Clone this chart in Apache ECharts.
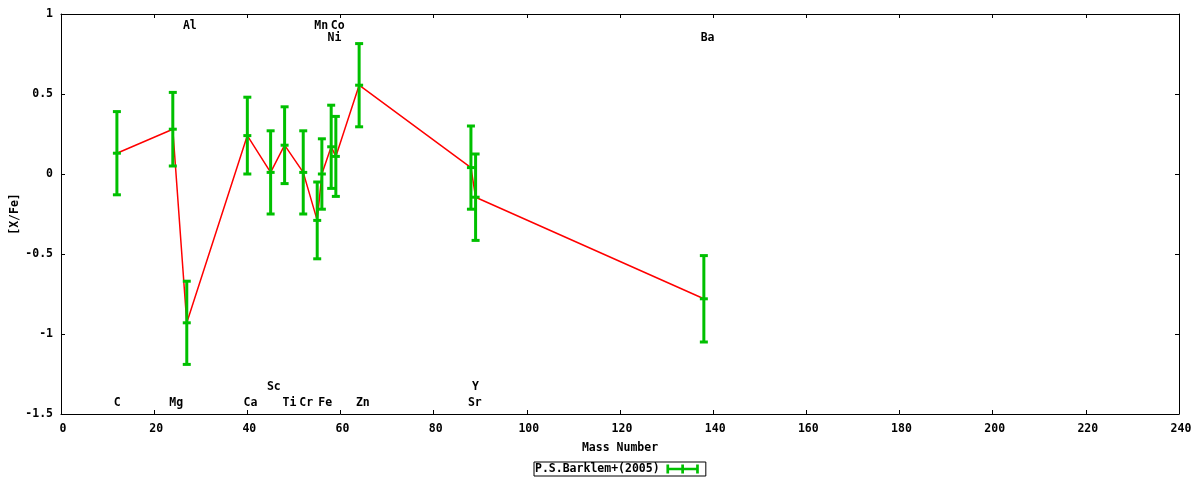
<!DOCTYPE html>
<html>
<head>
<meta charset="utf-8">
<script src="https://cdn.jsdelivr.net/npm/echarts@6/dist/echarts.min.js"></script>
<style>
html,body{margin:0;padding:0;background:#fff;}
#chart{width:1200px;height:480px;}
</style>
</head>
<body>
<div id="chart"></div>
<script>
// ---- data ----
const elements    = ['C','Mg','Al','Ca','Sc','Ti','Cr','Mn','Fe','Ni','Co','Zn','Sr','Y','Ba'];
const massNumbers = [12, 24, 27, 40, 45, 48, 52, 55, 56, 58, 59, 64, 88, 89, 138];
const xfeValues   = [0.13, 0.28, -0.93, 0.24, 0.01, 0.18, 0.01, -0.29, 0.00, 0.17, 0.11, 0.555, 0.04, -0.145, -0.78];
const xfeErrors   = [0.26, 0.23, 0.26, 0.24, 0.26, 0.24, 0.26, 0.24, 0.22, 0.26, 0.25, 0.26, 0.26, 0.27, 0.27];

// element annotation labels (data coordinates)
const labelNames = ['C','Mg','Al','Ca','Sc','Ti','Cr','Mn','Fe','Ni','Co','Zn','Sr','Y','Ba'];
const labelMass  = [12.07, 24.73, 27.65, 40.68, 45.69, 49.06, 52.64, 55.86, 56.72, 58.72, 59.4, 64.79, 88.84, 88.99, 138.8];
const labelLevel = [-1.43, -1.43, 0.925, -1.43, -1.33, -1.43, -1.43, 0.925, -1.43, 0.85, 0.925, -1.43, -1.43, -1.33, 0.85];

const xTicks = {min: 0, max: 240, interval: 20};
const yTicks = {min: -1.5, max: 1, interval: 0.5};
const seriesName = 'P.S.Barklem+(2005)';

// ---- build ----
const FONT = 'DejaVu Sans Mono';
const GREEN = '#00c000';
const RED = '#ff0000';
const txt = {fontFamily: FONT, fontWeight: 'bold', fontSize: 11.5, color: '#000'};

const pointData = massNumbers.map((m, i) => [m, xfeValues[i], xfeErrors[i]]);
const lineData = massNumbers.map((m, i) => [m, xfeValues[i]]);
const labelData = labelNames.map((n, i) => ({name: n, value: [labelMass[i], labelLevel[i]]}));

const axisCommon = {
  axisLine: {show: true, onZero: false, lineStyle: {color: '#000', width: 1}},
  axisTick: {show: true, inside: true, length: 4, lineStyle: {color: '#000'}},
  splitLine: {show: false}
};

const option = {
  animation: false,
  backgroundColor: '#fff',
  grid: {left: 61, right: 21, top: 14, bottom: 66, containLabel: false, outerBoundsMode: 'none'},
  xAxis: [
    Object.assign({
      type: 'value', position: 'bottom', min: xTicks.min, max: xTicks.max, interval: xTicks.interval,
      axisLabel: Object.assign({margin: 9, padding: [0, 0, 0, 4]}, txt),
      name: 'Mass Number', nameLocation: 'middle', nameGap: 28, nameMoveOverlap: false, nameTextStyle: txt
    }, axisCommon),
    Object.assign({
      type: 'value', position: 'top', min: xTicks.min, max: xTicks.max, interval: xTicks.interval,
      axisLabel: {show: false}
    }, axisCommon)
  ],
  yAxis: [
    Object.assign({
      type: 'value', position: 'left', min: yTicks.min, max: yTicks.max, interval: yTicks.interval,
      axisLabel: Object.assign({margin: 8}, txt),
      name: '[X/Fe]', nameLocation: 'middle', nameRotate: 90, nameGap: 40, nameMoveOverlap: false, nameTextStyle: txt
    }, axisCommon),
    Object.assign({
      type: 'value', position: 'right', min: yTicks.min, max: yTicks.max, interval: yTicks.interval,
      axisLabel: {show: false}
    }, axisCommon)
  ],
  legend: {
    data: [{name: seriesName, icon: 'path://M0,0H3V3.5H16.5V0H19.5V3.5H33V0H36V10H33V6.5H19.5V10H16.5V6.5H3V10H0Z'}],
    left: 534, top: 462, align: 'right', itemWidth: 36, itemHeight: 9, itemGap: 6,
    borderColor: '#000', borderWidth: 1, borderRadius: 0, padding: [1, 7, 1, 1],
    textStyle: txt, selectedMode: false
  },
  series: [
    {
      type: 'line', name: 'line', data: lineData, symbol: 'none', z: 2,
      lineStyle: {color: RED, width: 1.5}, silent: true
    },
    {
      type: 'custom', name: seriesName, data: pointData, z: 3, silent: true,
      itemStyle: {color: GREEN},
      encode: {x: 0, y: 1},
      renderItem: function (params, api) {
        const x = api.value(0), v = api.value(1), e = api.value(2);
        const c = api.coord([x, v]);
        const hi = api.coord([x, v + e]);
        const lo = api.coord([x, v - e]);
        const style = {fill: GREEN};
        const hw = 4, t = 3;
        return {
          type: 'group',
          children: [
            {type: 'rect', shape: {x: c[0] - 1.5, y: hi[1], width: 3, height: lo[1] - hi[1]}, style: style},
            {type: 'rect', shape: {x: c[0] - hw, y: hi[1] - t / 2, width: 2 * hw, height: t}, style: style},
            {type: 'rect', shape: {x: c[0] - hw, y: lo[1] - t / 2, width: 2 * hw, height: t}, style: style},
            {type: 'rect', shape: {x: c[0] - hw, y: c[1] - t / 2, width: 2 * hw, height: t}, style: style}
          ]
        };
      }
    },
    {
      type: 'scatter', name: 'labels', data: labelData, symbolSize: 0, silent: true, z: 4,
      itemStyle: {color: '#000', opacity: 1},
      label: Object.assign({show: true, position: 'inside', formatter: '{b}', opacity: 1, textBorderWidth: 0, textBorderColor: 'transparent'}, txt)
    }
  ]
};

const chart = echarts.init(document.getElementById('chart'), null, {renderer: 'canvas'});
chart.setOption(option);
</script>
</body>
</html>
